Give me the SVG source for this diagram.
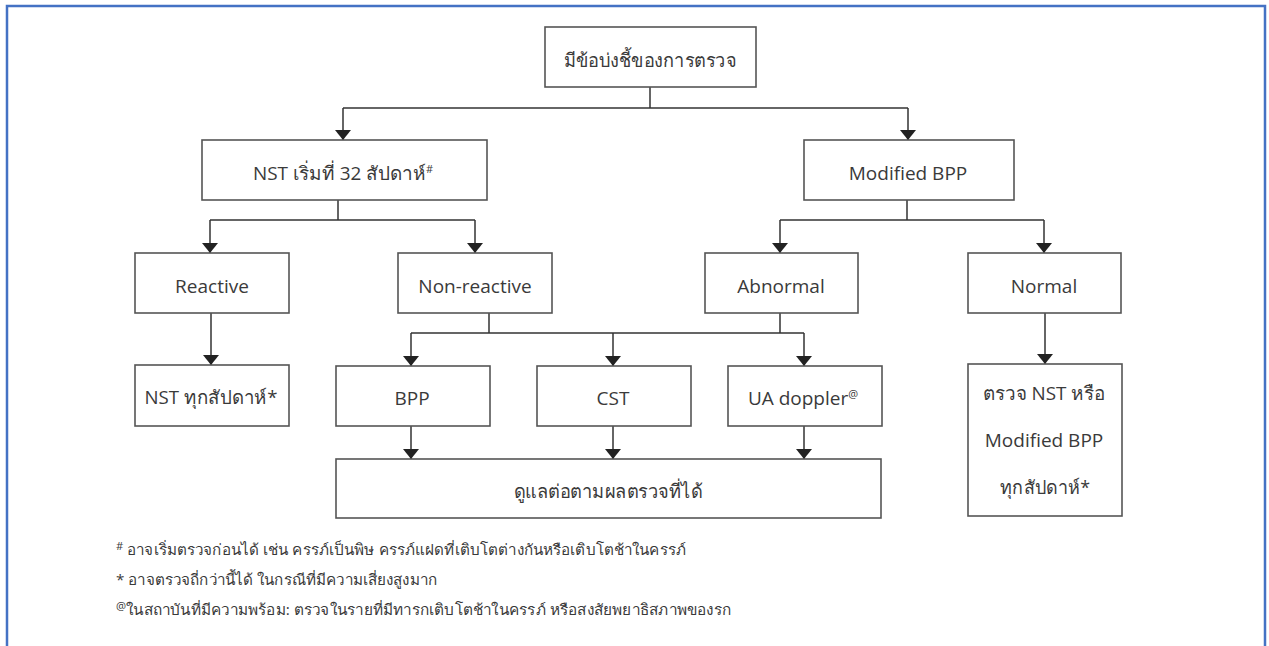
<svg xmlns="http://www.w3.org/2000/svg" width="1269" height="646" viewBox="0 0 1269 646">
<defs>
<style>
.box{fill:#fff;stroke:#555;stroke-width:1.6}
.t{font-family:"Open Sans","Noto Sans",sans-serif;font-size:19px;fill:#3a3a3a;text-anchor:middle}
.fn{font-family:"Open Sans","Noto Sans",sans-serif;font-size:15px;fill:#3a3a3a}
.c{fill:none;stroke:#333;stroke-width:1.5}
.sup{font-size:11px}
</style>
<marker id="ah" markerUnits="userSpaceOnUse" markerWidth="10" markerHeight="16" viewBox="0 0 10 16" refX="10" refY="8" orient="auto">
<path d="M0,0 L10,8 L0,16 z" fill="#222"/>
</marker>
</defs>
<rect x="0" y="0" width="1269" height="646" fill="#fff"/>
<path d="M7,660 V6 H1265 V660" fill="none" stroke="#4472C4" stroke-width="2.5"/>

<g id="connectors">
<path class="c" d="M650,87 V108"/>
<path class="c" d="M343,108 H908"/>
<path class="c" d="M343,108 V140" marker-end="url(#ah)"/>
<path class="c" d="M908,108 V140" marker-end="url(#ah)"/>
<path class="c" d="M338,200 V220 M210,220 H475"/>
<path class="c" d="M210,220 V253" marker-end="url(#ah)"/>
<path class="c" d="M475,220 V253" marker-end="url(#ah)"/>
<path class="c" d="M907,200 V220 M780,220 H1044"/>
<path class="c" d="M780,220 V253" marker-end="url(#ah)"/>
<path class="c" d="M1044,220 V253" marker-end="url(#ah)"/>
<path class="c" d="M211,313 V365" marker-end="url(#ah)"/>
<path class="c" d="M1045,313 V364" marker-end="url(#ah)"/>
<path class="c" d="M489,313 V333 M780,313 V333 M411,333 H804"/>
<path class="c" d="M411,333 V366" marker-end="url(#ah)"/>
<path class="c" d="M613,333 V366" marker-end="url(#ah)"/>
<path class="c" d="M804,333 V366" marker-end="url(#ah)"/>
<path class="c" d="M411,426 V459" marker-end="url(#ah)"/>
<path class="c" d="M613,426 V459" marker-end="url(#ah)"/>
<path class="c" d="M804,426 V459" marker-end="url(#ah)"/>
</g>

<g id="n-indication">
<rect class="box" x="545" y="27" width="211" height="60"/>
<text class="t" x="650" y="67" textLength="173" lengthAdjust="spacingAndGlyphs">มีข้อบ่งชี้ของการตรวจ</text>
</g>
<g id="n-nst32">
<rect class="box" x="202" y="140" width="285" height="60"/>
<text class="t" x="343" y="180" textLength="180" lengthAdjust="spacingAndGlyphs">NST เริ่มที่ 32 สัปดาห์<tspan class="sup" dy="-7">#</tspan></text>
</g>
<g id="n-mbpp">
<rect class="box" x="804" y="140" width="210" height="60"/>
<text class="t" x="908" y="180">Modified BPP</text>
</g>
<g id="n-reactive">
<rect class="box" x="135" y="253" width="154" height="60"/>
<text class="t" x="212" y="293">Reactive</text>
</g>
<g id="n-nonreactive">
<rect class="box" x="398" y="253" width="154" height="60"/>
<text class="t" x="475" y="293">Non-reactive</text>
</g>
<g id="n-abnormal">
<rect class="box" x="705" y="253" width="153" height="60"/>
<text class="t" x="781" y="293">Abnormal</text>
</g>
<g id="n-normal">
<rect class="box" x="968" y="253" width="153" height="60"/>
<text class="t" x="1044" y="293">Normal</text>
</g>
<g id="n-nstweekly">
<rect class="box" x="135" y="365" width="154" height="61"/>
<text class="t" x="211" y="404" textLength="133" lengthAdjust="spacingAndGlyphs">NST ทุกสัปดาห์*</text>
</g>
<g id="n-bpp">
<rect class="box" x="336" y="366" width="154" height="60"/>
<text class="t" x="412" y="405">BPP</text>
</g>
<g id="n-cst">
<rect class="box" x="537" y="366" width="154" height="60"/>
<text class="t" x="613" y="405">CST</text>
</g>
<g id="n-ua">
<rect class="box" x="728" y="366" width="154" height="60"/>
<text class="t" x="803" y="405">UA doppler<tspan class="sup" dy="-7">@</tspan></text>
</g>
<g id="n-followup">
<rect class="box" x="336" y="459" width="545" height="59"/>
<text class="t" x="608" y="498" textLength="189" lengthAdjust="spacingAndGlyphs">ดูแลต่อตามผลตรวจที่ได้</text>
</g>
<g id="n-check">
<rect class="box" x="968" y="364" width="154" height="152"/>
<text class="t" x="1044" y="400" textLength="122" lengthAdjust="spacingAndGlyphs">ตรวจ NST หรือ</text>
<text class="t" x="1044" y="447">Modified BPP</text>
<text class="t" x="1045" y="494" textLength="90" lengthAdjust="spacingAndGlyphs">ทุกสัปดาห์*</text>
</g>

<g id="footnotes">
<text class="fn" x="116" y="555" textLength="570" lengthAdjust="spacingAndGlyphs"><tspan class="sup" dy="-5">#</tspan><tspan dy="5"> อาจเริ่มตรวจก่อนได้ เช่น ครรภ์เป็นพิษ ครรภ์แฝดที่เติบโตต่างกันหรือเติบโตช้าในครรภ์</tspan></text>
<text class="fn" x="116" y="585" textLength="321" lengthAdjust="spacingAndGlyphs">* อาจตรวจถี่กว่านี้ได้ ในกรณีที่มีความเสี่ยงสูงมาก</text>
<text class="fn" x="116" y="615" textLength="615" lengthAdjust="spacingAndGlyphs"><tspan class="sup" dy="-5">@</tspan><tspan dy="5">ในสถาบันที่มีความพร้อม: ตรวจในรายที่มีทารกเติบโตช้าในครรภ์ หรือสงสัยพยาธิสภาพของรก</tspan></text>
</g>
</svg>
